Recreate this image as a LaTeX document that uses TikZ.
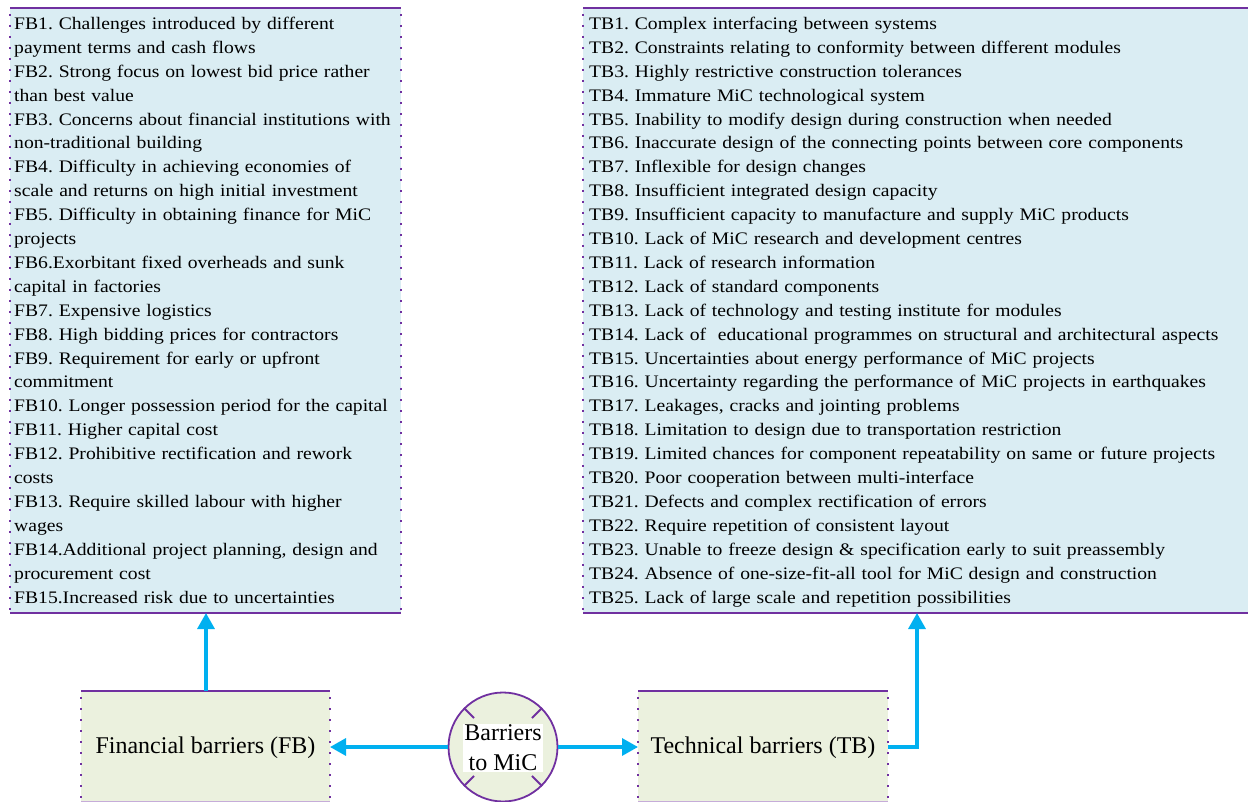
\documentclass[tikz,border=0pt]{standalone}
\usepackage{fontspec}
\setmainfont{Liberation Serif}
\newfontfamily\listfont{Liberation Serif}[FakeStretch=1.115]
\frenchspacing
\usetikzlibrary{arrows.meta}
\definecolor{pur}{HTML}{7030A0}
\definecolor{skyb}{HTML}{00B0F0}
\definecolor{lblue}{HTML}{DAEDF3}
\definecolor{lgreen}{HTML}{EBF1DE}
\tikzset{
  thickedge/.style={draw=pur, line width=2.8pt},
  dotedge/.style={draw=pur, line width=1.6pt, dash pattern=on 1.6pt off 9.4pt},
  listtext/.style={anchor=base west, inner sep=0pt, align=left, font=\listfont\frenchspacing\fontsize{17.6}{23.9}\selectfont},
  boxtext/.style={inner sep=0pt, font=\fontsize{24}{28}\selectfont},
  conn/.style={draw=skyb, line width=3.3pt, -{Triangle[length=16pt,width=17pt]}},
}
\begin{document}
\begin{tikzpicture}[x=1pt,y=-1pt]
\useasboundingbox (0,0) rectangle (1248,802);
% left list box
\fill[lblue] (10,8) rectangle (401,613);
\path[dotedge] (10,14) -- (10,610);
\path[dotedge] (401,14) -- (401,610);
\path[thickedge] (10,8) -- (401,8);
\path[thickedge] (10,613) -- (401,613);
\coordinate (fbl) at (206,613);
\node[listtext, text width=420pt] (fblist) at (14,29.5) {FB1. Challenges introduced by different\\
payment terms and cash flows\\
FB2. Strong focus on lowest bid price rather\\
than best value\\
FB3. Concerns about financial institutions with\\
non-traditional building\\
FB4. Difficulty in achieving economies of\\
scale and returns on high initial investment\\
FB5. Difficulty in obtaining finance for MiC\\
projects\\
FB6.Exorbitant fixed overheads and sunk\\
capital in factories\\
FB7. Expensive logistics\\
FB8. High bidding prices for contractors\\
FB9. Requirement for early or upfront\\
commitment\\
FB10. Longer possession period for the capital\\
FB11. Higher capital cost\\
FB12. Prohibitive rectification and rework\\
costs\\
FB13. Require skilled labour with higher\\
wages\\
FB14.Additional project planning, design and\\
procurement cost\\
FB15.Increased risk due to uncertainties};
% right list box
\fill[lblue] (583,8) rectangle (1248,613);
\path[dotedge] (583,14) -- (583,610);
\path[thickedge] (583,8) -- (1248,8);
\path[thickedge] (583,613) -- (1248,613);
\coordinate (tbl) at (917,613);
\node[listtext, text width=680pt] (tblist) at (589,29.5) {TB1. Complex interfacing between systems\\
TB2. Constraints relating to conformity between different modules\\
TB3. Highly restrictive construction tolerances\\
TB4. Immature MiC technological system\\
TB5. Inability to modify design during construction when needed\\
TB6. Inaccurate design of the connecting points between core components\\
TB7. Inflexible for design changes\\
TB8. Insufficient integrated design capacity\\
TB9. Insufficient capacity to manufacture and supply MiC products\\
TB10. Lack of MiC research and development centres\\
TB11. Lack of research information\\
TB12. Lack of standard components\\
TB13. Lack of technology and testing institute for modules\\
TB14. Lack of\ \ educational programmes on structural and architectural aspects\\
TB15. Uncertainties about energy performance of MiC projects\\
TB16. Uncertainty regarding the performance of MiC projects in earthquakes\\
TB17. Leakages, cracks and jointing problems\\
TB18. Limitation to design due to transportation restriction\\
TB19. Limited chances for component repeatability on same or future projects\\
TB20. Poor cooperation between multi-interface\\
TB21. Defects and complex rectification of errors\\
TB22. Require repetition of consistent layout\\
TB23. Unable to freeze design \& specification early to suit preassembly\\
TB24. Absence of one-size-fit-all tool\ for MiC design and construction\\
TB25. Lack of large scale and repetition possibilities};
% bottom boxes
\fill[lgreen] (81,691) rectangle (330,801);
\path[dotedge] (81,697) -- (81,800);
\path[dotedge] (330,697) -- (330,800);
\path[thickedge] (81,691) -- (330,691);
\draw[pur!40, line width=0.8pt] (81,801) -- (330,801);
\node[boxtext] (fb) at (205.5,747.5) {Financial barriers (FB)};
\coordinate (fbn) at (206,691);
\coordinate (fbe) at (330,747);
\fill[lgreen] (638,691) rectangle (888,801);
\path[dotedge] (638,697) -- (638,800);
\path[dotedge] (888,697) -- (888,800);
\path[thickedge] (638,691) -- (888,691);
\draw[pur!40, line width=0.8pt] (638,801) -- (888,801);
\node[boxtext] (tb) at (763,747.5) {Technical barriers (TB)};
\coordinate (tbw) at (638,747);
\coordinate (tbe) at (888,747);
% circle
\node[circle, draw=pur, line width=1.8pt, fill=lgreen, minimum size=109pt, inner sep=0pt] (c) at (503,747) {};
\foreach \a in {45,135,225,315}
  \draw[pur, line width=1.8pt] (c.center) ++(\a:41pt) -- ++(\a:14pt);
\node[fill=white, inner sep=1pt, align=center, font=\fontsize{24}{30}\selectfont] (ct) at (503,748) {Barriers\\to MiC};
% connectors
\path[conn] (c.west) -- (fbe);
\path[conn] (c.east) -- (tbw);
\path[conn] (fbn) -- (fbl);
\path[conn] (tbe) -- (917,747) -- (tbl);
\end{tikzpicture}
\end{document}
